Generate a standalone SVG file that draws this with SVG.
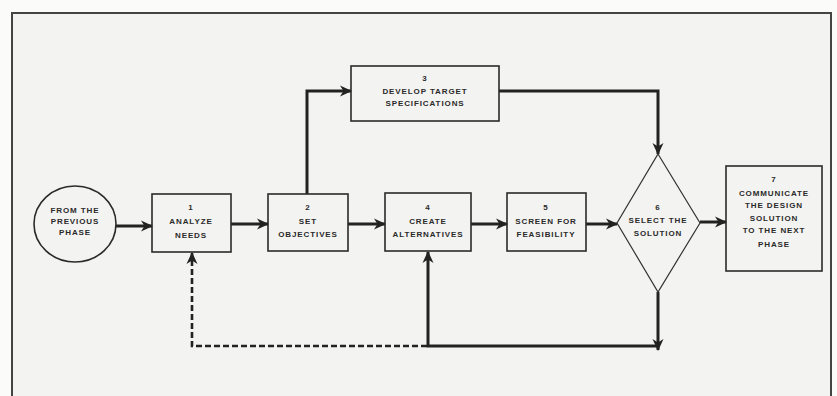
<svg xmlns="http://www.w3.org/2000/svg" width="837" height="396" viewBox="0 0 837 396">
<defs>
<marker id="ah" markerUnits="userSpaceOnUse" markerWidth="12" markerHeight="12" refX="11" refY="6" orient="auto">
<path d="M0,0.5 L12,6 L0,11.5 L3.5,6 Z" fill="#222"/>
</marker>
<style>
.bx{fill:none;stroke:#2a2a2a;stroke-width:1.6}
.dm{fill:none;stroke:#333;stroke-width:1.2}
.ln{fill:none;stroke:#222;stroke-width:3}
.ds{fill:none;stroke:#222;stroke-width:2.6;stroke-dasharray:6,3}
text{font-family:"Liberation Sans",Arial,sans-serif;font-size:8px;font-weight:bold;letter-spacing:0.9px;fill:#2a2a2a;text-anchor:middle}
</style>
</defs>
<rect x="0" y="0" width="837" height="396" fill="#fbfbfa"/>
<rect x="12" y="13" width="819" height="400" fill="#f3f3f1" stroke="#444" stroke-width="2"/>

<g id="connectors">
<line class="ln" x1="116" y1="226" x2="152" y2="226" marker-end="url(#ah)"/>
<line class="ln" x1="231" y1="224" x2="268" y2="224" marker-end="url(#ah)"/>
<line class="ln" x1="348" y1="224" x2="385" y2="224" marker-end="url(#ah)"/>
<line class="ln" x1="471" y1="224" x2="507" y2="224" marker-end="url(#ah)"/>
<line class="ln" x1="586" y1="224" x2="617" y2="224" marker-end="url(#ah)"/>
<line class="ln" x1="700" y1="222" x2="726" y2="222" marker-end="url(#ah)"/>
<polyline class="ln" points="307,194 307,91 351,91" marker-end="url(#ah)"/>
<polyline class="ln" points="499,91 658,91 658,154" marker-end="url(#ah)"/>
<polyline class="ln" points="658,346 428,346 428,252" marker-end="url(#ah)"/>
<line class="ln" x1="658" y1="292" x2="658" y2="350" marker-end="url(#ah)"/>
<polyline class="ds" points="427,346 192,346 192,253" marker-end="url(#ah)"/>
</g>

<g id="n0">
<ellipse cx="75" cy="224" rx="41" ry="38" class="bx"/>
<text x="75" y="213">FROM THE</text>
<text x="75" y="224">PREVIOUS</text>
<text x="75" y="235">PHASE</text>
</g>
<g id="n1">
<rect x="152" y="194" width="79" height="58" class="bx"/>
<text x="191" y="210">1</text>
<text x="191" y="224">ANALYZE</text>
<text x="191" y="238">NEEDS</text>
</g>
<g id="n2">
<rect x="268" y="194" width="80" height="57" class="bx"/>
<text x="308" y="210">2</text>
<text x="308" y="224">SET</text>
<text x="308" y="237">OBJECTIVES</text>
</g>
<g id="n3">
<rect x="351" y="66" width="148" height="55" class="bx"/>
<text x="425" y="81">3</text>
<text x="425" y="94">DEVELOP TARGET</text>
<text x="425" y="106">SPECIFICATIONS</text>
</g>
<g id="n4">
<rect x="385" y="193" width="86" height="58" class="bx"/>
<text x="428" y="210">4</text>
<text x="428" y="224">CREATE</text>
<text x="428" y="237">ALTERNATIVES</text>
</g>
<g id="n5">
<rect x="507" y="193" width="79" height="58" class="bx"/>
<text x="546" y="210">5</text>
<text x="546" y="224">SCREEN FOR</text>
<text x="546" y="237">FEASIBILITY</text>
</g>
<g id="n6">
<polygon points="658,154 700,223 658,292 617,223" class="dm"/>
<text x="658" y="210">6</text>
<text x="658" y="223">SELECT THE</text>
<text x="658" y="236">SOLUTION</text>
</g>
<g id="n7">
<rect x="726" y="166" width="96" height="105" class="bx"/>
<text x="774" y="182">7</text>
<text x="774" y="196">COMMUNICATE</text>
<text x="774" y="208">THE DESIGN</text>
<text x="774" y="221">SOLUTION</text>
<text x="774" y="233">TO THE NEXT</text>
<text x="774" y="247">PHASE</text>
</g>
</svg>
